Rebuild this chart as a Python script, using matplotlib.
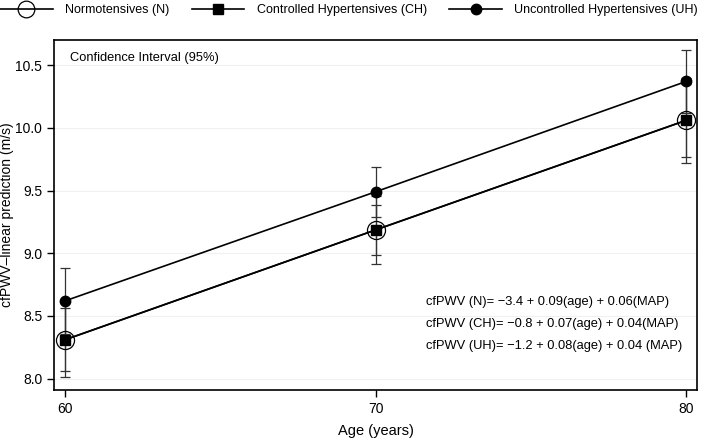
import numpy as np
import matplotlib
matplotlib.use("Agg")
import matplotlib.pyplot as plt
from matplotlib.lines import Line2D

plt.rcParams['font.family'] = ['Liberation Sans', 'DejaVu Sans']

# Daten
age = [60, 70, 80]
n_vals = [8.31, 9.186, 10.06]
n_err = [0.30, 0.27, 0.29]
ch_vals = [8.31, 9.186, 10.06]
ch_err = [0.25, 0.20, 0.34]
uh_vals = [8.62, 9.49, 10.37]
uh_err = [0.26, 0.20, 0.25]

labels = ['Normotensives (N)', 'Controlled Hypertensives (CH)', 'Uncontrolled Hypertensives (UH)']
equations = ['cfPWV (N)= \u22123.4 + 0.09(age) + 0.06(MAP)',
             'cfPWV (CH)= \u22120.8 + 0.07(age) + 0.04(MAP)',
             'cfPWV (UH)= \u22121.2 + 0.08(age) + 0.04 (MAP)']

fig = plt.figure(figsize=(7.09, 4.38), dpi=100)
ax = fig.add_axes([0.0762, 0.1096, 0.907, 0.799])

ax.yaxis.grid(True, color='#f0f0f0', lw=0.8)
ax.set_axisbelow(True)

err_kw = dict(ecolor='#333333', elinewidth=0.9, capsize=3.7, capthick=0.9)
ax.errorbar(age, n_vals, yerr=n_err, fmt='none', **err_kw)
ax.errorbar(age, ch_vals, yerr=ch_err, fmt='none', **err_kw)
ax.errorbar(age, uh_vals, yerr=uh_err, fmt='none', **err_kw)

ax.plot(age, n_vals, color='black', lw=1.2, marker='o', ms=13,
        mfc='none', mec='black', mew=0.9)
ax.plot(age, ch_vals, color='black', lw=1.2, marker='s', ms=7,
        mfc='black', mec='black')
ax.plot(age, uh_vals, color='black', lw=1.2, marker='o', ms=7.5,
        mfc='black', mec='black')

ax.set_xlim(59.65, 80.35)
ax.set_ylim(7.91, 10.70)
ax.set_xticks([60, 70, 80])
ax.set_yticks([8.0, 8.5, 9.0, 9.5, 10.0, 10.5])
ax.set_yticklabels(['8.0', '8.5', '9.0', '9.5', '10.0', '10.5'])
ax.tick_params(direction='out', length=5, width=1, labelsize=10, colors='black')
for s in ax.spines.values():
    s.set_linewidth(1.2)

ax.set_xlabel('Age (years)', fontsize=10.5, labelpad=6)
ax.set_ylabel('cfPWV\u2013linear prediction (m/s)', fontsize=10, labelpad=1)

ax.text(0.025, 0.949, 'Confidence Interval (95%)', transform=ax.transAxes,
        fontsize=9.3, va='center', ha='left')

eq_y = [0.251, 0.189, 0.126]
for eq, yy in zip(equations, eq_y):
    ax.text(0.5785, yy, eq, transform=ax.transAxes,
            fontsize=9.3, va='center', ha='left')

handles = [
    Line2D([], [], color='black', lw=1.2, marker='o', ms=12, mfc='none', mec='black', mew=0.9),
    Line2D([], [], color='black', lw=1.2, marker='s', ms=6.5, mfc='black'),
    Line2D([], [], color='black', lw=1.2, marker='o', ms=7.5, mfc='black'),
]
fig.legend(handles, labels, loc='center left', bbox_to_anchor=(0.0, 1 - 10 / 438), ncol=3,
           frameon=False, fontsize=9.0, handlelength=4.2, handletextpad=1.0,
           columnspacing=1.8, borderpad=0, borderaxespad=0)

fig.savefig('out.png', dpi=100)
